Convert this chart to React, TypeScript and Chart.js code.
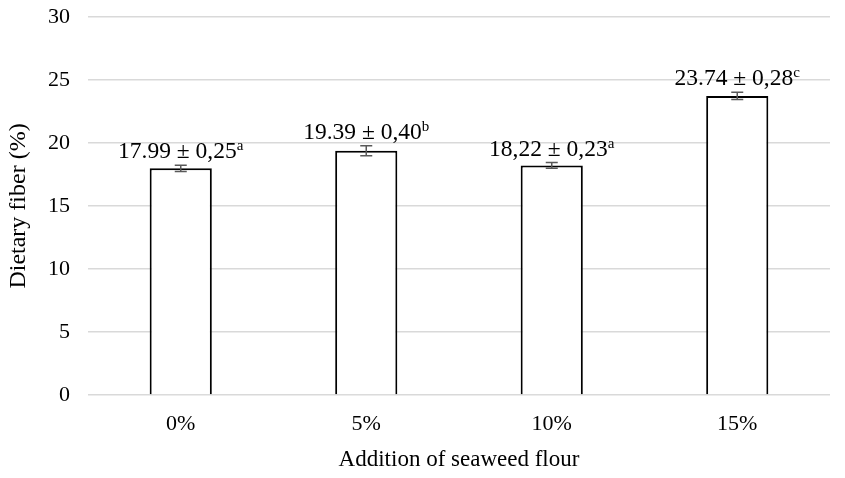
import { useEffect, useRef } from "react";
import { Chart, registerables } from "chart.js";

Chart.register(...registerables);

const categories = ["0%", "5%", "10%", "15%"];
const fiberMeans = [17.99, 19.39, 18.22, 23.74];
const fiberSD = [0.25, 0.4, 0.23, 0.28];
const meanTexts = ["17.99", "19.39", "18,22", "23.74"];
const sdTexts = ["0,25", "0,40", "0,23", "0,28"];
const letters = ["a", "b", "a", "c"];

const FONT = "'Liberation Serif', 'Times New Roman', serif";

const errorLabelPlugin = {
  id: "errorLabels",
  afterDatasetsDraw(chart: any) {
    const ctx = chart.ctx;
    const meta = chart.getDatasetMeta(0);
    const yScale = chart.scales.y;
    ctx.save();
    meta.data.forEach((el: any, i: number) => {
      const x = el.x;
      const top = yScale.getPixelForValue(fiberMeans[i] + fiberSD[i]);
      const bot = yScale.getPixelForValue(fiberMeans[i] - fiberSD[i]);
      ctx.strokeStyle = "#595959";
      ctx.lineWidth = 1.5;
      ctx.beginPath();
      ctx.moveTo(x, top);
      ctx.lineTo(x, bot);
      ctx.moveTo(x - 6, top);
      ctx.lineTo(x + 6, top);
      ctx.moveTo(x - 6, bot);
      ctx.lineTo(x + 6, bot);
      ctx.stroke();

      const main = `${meanTexts[i]} ± ${sdTexts[i]}`;
      ctx.font = `23.5px ${FONT}`;
      const wMain = ctx.measureText(main).width;
      ctx.font = `15px ${FONT}`;
      const wSup = ctx.measureText(letters[i]).width;
      const total = wMain + wSup;
      const startX = x - total / 2;
      const baseline = top - 7;
      ctx.fillStyle = "#000";
      ctx.textBaseline = "alphabetic";
      ctx.textAlign = "left";
      ctx.font = `23.5px ${FONT}`;
      ctx.fillText(main, startX, baseline);
      ctx.font = `15px ${FONT}`;
      ctx.fillText(letters[i], startX + wMain, baseline - 8);
    });
    ctx.restore();
  },
};

export default function App() {
  const ref = useRef<HTMLCanvasElement>(null);
  useEffect(() => {
    document.body.style.margin = "0";
    const chart = new Chart(ref.current!, {
      type: "bar",
      data: {
        labels: categories,
        datasets: [
          {
            data: fiberMeans,
            backgroundColor: "#ffffff",
            borderColor: "#000000",
            borderWidth: 2,
            categoryPercentage: 1,
            barPercentage: 0.335,
          },
        ],
      },
      options: {
        responsive: false,
        animation: false,
        layout: { padding: { top: 17, right: 15, left: 0, bottom: 0 } },
        plugins: { legend: { display: false }, tooltip: { enabled: false } },
        scales: {
          x: {
            grid: { display: false, drawTicks: false },
            border: { display: false },
            ticks: { color: "#000", font: { family: FONT, size: 22 }, padding: 16 },
            title: {
              display: true,
              text: "Addition of seaweed flour",
              color: "#000",
              font: { family: FONT, size: 23 },
              padding: { top: 4 },
            },
            afterFit(scale: any) {
              scale.height = 83;
            },
          },
          y: {
            min: 0,
            max: 30,
            ticks: { stepSize: 5, color: "#000", font: { family: FONT, size: 22 }, padding: 18 },
            grid: { color: "#d9d9d9", lineWidth: 1.5, drawTicks: false },
            border: { display: false },
            title: {
              display: true,
              text: "Dietary fiber (%)",
              color: "#000",
              font: { family: FONT, size: 24 },
              padding: { bottom: 2 },
            },
            afterFit(scale: any) {
              scale.width = 88;
              scale.paddingTop = 0;
              scale.paddingBottom = 0;
            },
          },
        },
      },
      plugins: [errorLabelPlugin],
    });
    return () => chart.destroy();
  }, []);
  return <canvas ref={ref} width={845} height={478} style={{ display: "block" }} />;
}
